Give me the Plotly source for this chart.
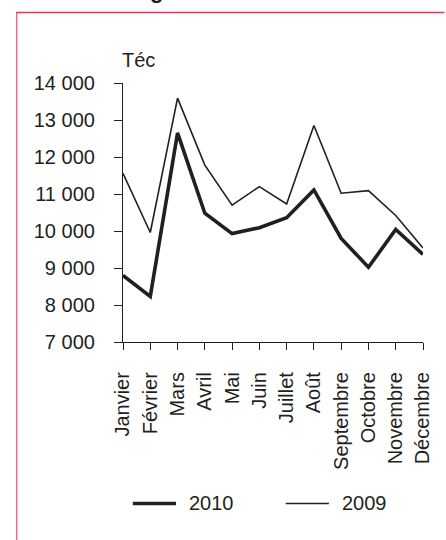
import plotly.graph_objects as go

# Monthly values (Téc)
months = ["Janvier", "Février", "Mars", "Avril", "Mai", "Juin", "Juillet",
          "Août", "Septembre", "Octobre", "Novembre", "Décembre"]
values_2010 = [8800, 8230, 12650, 10480, 9930, 10090, 10360, 11110, 9800, 9020, 10040, 9370]
values_2009 = [11560, 9960, 13590, 11780, 10700, 11200, 10730, 12850, 11020, 11090, 10420, 9540]
y_ticks = [7000, 8000, 9000, 10000, 11000, 12000, 13000, 14000]

W, H = 446, 540
ML, MR, MT, MB = 123, 17, 83, 198
PW, PH = W - ML - MR, H - MT - MB

INK = "#231f20"
FONT = "Liberation Sans, Arial, sans-serif"
FS = 20


def px(x):
    return (x - ML) / PW


def py(y):
    return (H - MB - y) / PH


fig = go.Figure()
fig.add_trace(go.Scatter(x=months, y=values_2009, mode="lines", name="2009",
                         line=dict(color=INK, width=1.6), showlegend=False))
fig.add_trace(go.Scatter(x=months, y=values_2010, mode="lines", name="2010",
                         line=dict(color=INK, width=3.6), showlegend=False))

shapes = [
    # frame edges
    dict(type="line", xref="paper", yref="paper", x0=px(14.6), x1=px(14.6), y0=py(12.5), y1=py(H + 5),
         line=dict(color="#ef6f84", width=1.5)),
    dict(type="line", xref="paper", yref="paper", x0=px(14), x1=px(W + 5), y0=py(12.5), y1=py(12.5),
         line=dict(color="#e8334f", width=1.5)),
    # legend samples
    dict(type="line", xref="paper", yref="paper", x0=px(133), x1=px(177), y0=py(503.5), y1=py(503.5),
         line=dict(color=INK, width=3.6)),
    dict(type="line", xref="paper", yref="paper", x0=px(289), x1=px(333), y0=py(503.5), y1=py(503.5),
         line=dict(color=INK, width=1.4)),
]

annotations = [
    dict(text="Téc", xref="paper", yref="paper", x=px(138.5), y=py(60), showarrow=False,
         font=dict(size=FS, color=INK, family=FONT), xanchor="center", yanchor="middle"),
    dict(text="2010", xref="paper", yref="paper", x=px(188), y=py(503), showarrow=False,
         font=dict(size=FS, color=INK, family=FONT), xanchor="left", yanchor="middle"),
    dict(text="2009", xref="paper", yref="paper", x=px(344.5), y=py(503), showarrow=False,
         font=dict(size=FS, color=INK, family=FONT), xanchor="left", yanchor="middle"),
    dict(text="<b>g</b>", xref="paper", yref="paper", x=px(157), y=py(5), showarrow=False,
         font=dict(size=22, color=INK, family=FONT), xanchor="center", yanchor="bottom"),
]

fig.update_layout(
    width=W, height=H,
    margin=dict(l=ML, r=MR, t=MT, b=MB, pad=0),
    paper_bgcolor="white", plot_bgcolor="white",
    font=dict(family=FONT, size=FS, color=INK),
    separators=", ",
    showlegend=False,
    shapes=shapes,
    annotations=annotations,
    xaxis=dict(
        type="category", range=[0, 11], showgrid=False, zeroline=False,
        showline=True, linecolor=INK, linewidth=1.2,
        ticks="outside", ticklen=7, tickcolor=INK, tickwidth=1.2,
        tickangle=-90, tickfont=dict(size=FS, color=INK, family=FONT),
        ticklabelstandoff=14,
    ),
    yaxis=dict(
        range=[7000, 14000], tickvals=y_ticks, tickformat=",d", showgrid=False, zeroline=False,
        showline=True, linecolor=INK, linewidth=1.2,
        ticks="outside", ticklen=8, tickcolor=INK, tickwidth=1.2,
        tickfont=dict(size=FS, color=INK, family=FONT),
        ticklabelstandoff=15,
    ),
)

fig.write_html("out.html")
